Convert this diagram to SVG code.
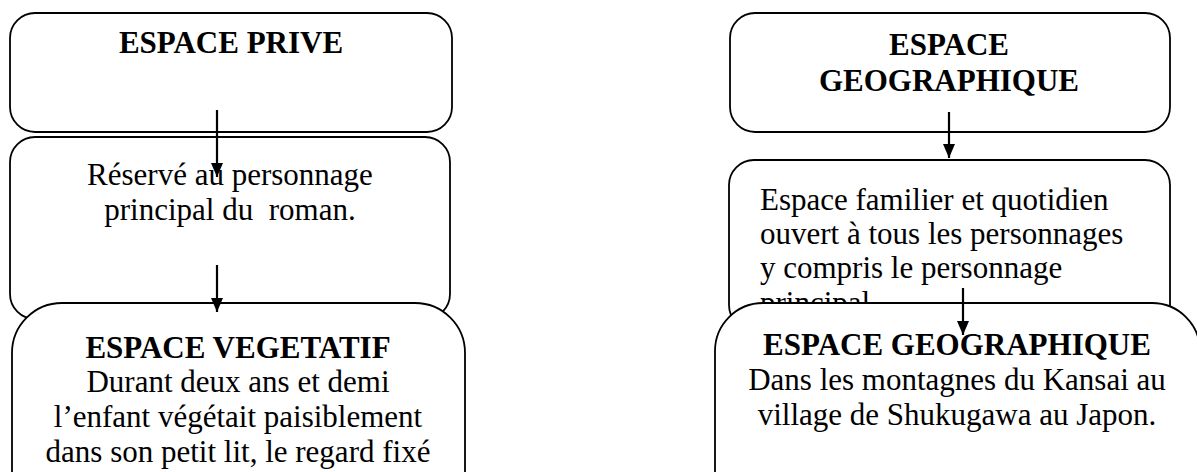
<svg xmlns="http://www.w3.org/2000/svg" width="1197" height="472" viewBox="0 0 1197 472">
<style>
.box{fill:#fff;stroke:#000;stroke-width:1.8}
.t{font-family:"Liberation Serif","Times New Roman",serif;font-size:31px;fill:#000}
.b{font-weight:bold}
.c{text-anchor:middle}
.ar{stroke:#000;stroke-width:2.2;fill:none}
</style>
<defs>
<marker id="ah" viewBox="0 0 14 12" refX="14" refY="6" markerWidth="14" markerHeight="12" markerUnits="userSpaceOnUse" orient="auto">
<path d="M0,0 L14,6 L0,12 Z" fill="#000"/>
</marker>
</defs>
<g id="n1"><rect class="box" x="10" y="13" width="442" height="119" rx="25"/>
<text class="t b c" x="231" y="53">ESPACE PRIVE</text></g>
<g id="n2"><rect class="box" x="10" y="137" width="440" height="182" rx="25"/>
<text class="t c" x="230" y="185">Réservé au personnage</text>
<text class="t c" x="230" y="220" xml:space="preserve">principal du  roman.</text></g>
<g id="n3"><rect class="box" x="12" y="303" width="453" height="230" rx="50"/>
<text class="t b c" x="238" y="358">ESPACE VEGETATIF</text>
<text class="t c" x="238" y="392">Durant deux ans et demi</text>
<text class="t c" x="238" y="427">l’enfant végétait paisiblement</text>
<text class="t c" x="238" y="462">dans son petit lit, le regard fixé</text></g>
<g id="n4"><rect class="box" x="730" y="13" width="440" height="119" rx="25"/>
<text class="t b c" x="949" y="55">ESPACE</text>
<text class="t b c" x="949" y="91">GEOGRAPHIQUE</text></g>
<g id="n5"><rect class="box" x="729" y="160" width="441" height="170" rx="25"/>
<text class="t" x="760" y="210">Espace familier et quotidien</text>
<text class="t" x="760" y="244">ouvert à tous les personnages</text>
<text class="t" x="760" y="278">y compris le personnage</text>
<text class="t" x="760" y="313">principal</text></g>
<g id="n6"><rect class="box" x="715" y="303" width="485" height="230" rx="48"/>
<text class="t b c" x="957" y="355">ESPACE GEOGRAPHIQUE</text>
<text class="t c" x="957" y="390">Dans les montagnes du Kansai au</text>
<text class="t c" x="957" y="425">village de Shukugawa au Japon.</text></g>
<g id="connectors">
<line class="ar" x1="217" y1="110" x2="217" y2="177" marker-end="url(#ah)"/>
<line class="ar" x1="217" y1="265" x2="217" y2="312" marker-end="url(#ah)"/>
<line class="ar" x1="949" y1="112" x2="949" y2="158" marker-end="url(#ah)"/>
<line class="ar" x1="963" y1="288" x2="963" y2="335" marker-end="url(#ah)"/>
</g>
</svg>
